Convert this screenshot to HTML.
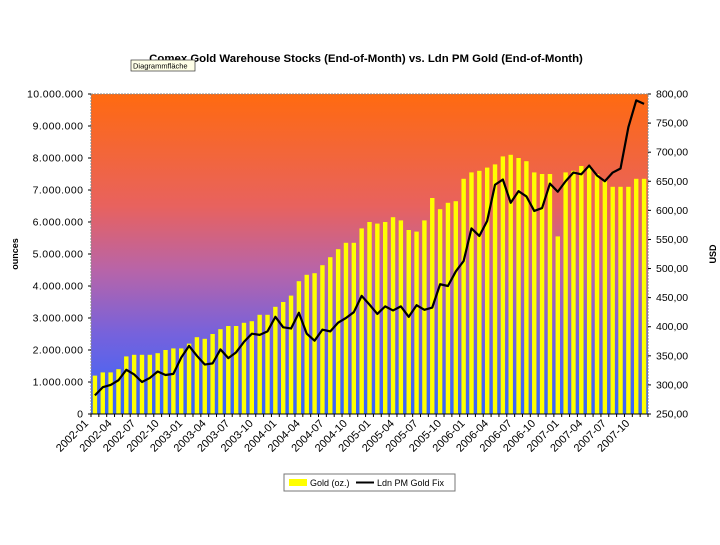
<!DOCTYPE html>
<html><head><meta charset="utf-8"><style>
body{margin:0;background:#fff;}
svg text{font-family:"Liberation Sans",Arial,sans-serif;}
</style></head><body>
<svg id="c" width="720" height="540" xmlns="http://www.w3.org/2000/svg">
<defs>
<linearGradient id="bg" x1="0" y1="0" x2="0" y2="1">
<stop offset="0" stop-color="#ff6a10"/>
<stop offset="0.35" stop-color="#e8625e"/>
<stop offset="0.55" stop-color="#b864a8"/>
<stop offset="0.75" stop-color="#7662dc"/>
<stop offset="1" stop-color="#3366ff"/>
</linearGradient>
</defs>
<rect x="0" y="0" width="720" height="540" fill="#fff"/>
<text x="366" y="62" font-size="11.4" font-weight="bold" text-anchor="middle">Comex Gold Warehouse Stocks (End-of-Month) vs. Ldn PM Gold (End-of-Month)</text>
<rect x="91" y="94" width="557" height="320" fill="url(#bg)" stroke="#888" stroke-dasharray="2,1"/>
<g id="bars"></g><g id="line"></g><g id="axes"></g>
<rect x="131" y="60" width="64" height="11" fill="#ffffe8" stroke="#333" stroke-width="0.7"/>
<text x="133" y="68.5" font-size="7.5">Diagrammfläche</text>
<text transform="translate(18,254) rotate(-90)" font-size="9" font-weight="bold" text-anchor="middle">ounces</text>
<text transform="translate(716,254) rotate(-90)" font-size="9" font-weight="bold" text-anchor="middle">USD</text>
<g>
<rect x="284" y="474" width="171" height="17" fill="#fff" stroke="#777"/>
<rect x="289" y="479" width="18" height="7" fill="#ffff00"/>
<text x="310" y="486" font-size="9">Gold (oz.)</text>
<line x1="356" y1="482.5" x2="374" y2="482.5" stroke="#000" stroke-width="2"/>
<text x="377" y="486" font-size="9">Ldn PM Gold Fix</text>
</g>
</svg>
<script>
const stocks=[1.2,1.3,1.3,1.4,1.8,1.85,1.85,1.85,1.9,2.0,2.05,2.05,
2.2,2.4,2.35,2.5,2.65,2.75,2.75,2.85,2.9,3.1,3.1,3.35,
3.5,3.7,4.15,4.35,4.4,4.65,4.9,5.15,5.35,5.35,5.8,6.0,
5.95,6.0,6.15,6.05,5.75,5.7,6.05,6.75,6.4,6.6,6.65,7.35,
7.55,7.6,7.7,7.8,8.05,8.1,8.0,7.9,7.55,7.5,7.5,5.55,
7.55,7.6,7.75,7.75,7.5,7.3,7.1,7.1,7.1,7.35,7.35];
const price=[282,296,300,308,326,318,305,312,323,317,319,347,
367,350,335,337,361,346,356,374,388,386,392,417,
399,397,424,388,376,395,392,407,415,425,453,438,
422,435,428,435,417,437,429,433,473,470,495,513,
569,556,582,644,653,613,633,624,599,604,646,632,
650,665,662,677,660,650,665,672,743,789,783];
const leftTicks=["0","1.000.000","2.000.000","3.000.000","4.000.000","5.000.000","6.000.000","7.000.000","8.000.000","9.000.000","10.000.000"];
const rightTicks=["250,00","300,00","350,00","400,00","450,00","500,00","550,00","600,00","650,00","700,00","750,00","800,00"];
const months=[];
for(let y=2002;y<=2007;y++)for(let m=1;m<=12;m++)if(months.length<stocks.length)months.push(y+"-"+String(m).padStart(2,"0"));
const NS="http://www.w3.org/2000/svg";
const X0=91,X1=648,Y0=414,Y1=94,n=stocks.length,bw=(X1-X0)/n;
const yL=v=>Y0-(v/10)*(Y0-Y1);
const yR=v=>Y0-(v-250)/550*(Y0-Y1);
const xc=i=>X0+bw*(i+0.5);
function mk(t,a,p){const e=document.createElementNS(NS,t);for(const k in a)e.setAttribute(k,a[k]);p.appendChild(e);return e;}
const gb=document.getElementById("bars"),gl=document.getElementById("line"),ga=document.getElementById("axes");
stocks.forEach((v,i)=>{const r=mk("rect",{x:xc(i)-2.2,y:yL(v),width:4.4,height:Y0-yL(v),fill:"#ffff00"},gb);

});
const pl=mk("polyline",{points:price.map((v,i)=>xc(i)+","+yR(v)).join(" "),fill:"none",stroke:"#000","stroke-width":2.2,"stroke-linejoin":"round"},gl);


leftTicks.forEach((t,i)=>{const y=Y0-i*(Y0-Y1)/10;
mk("line",{x1:X0-3,y1:y,x2:X0,y2:y,stroke:"#000"},ga);
const e=mk("text",{x:X0-8,y:y+3.5,"font-size":10.5,"text-anchor":"end",transform:"scale(1,1)"},ga);e.textContent=t;
e.setAttribute('textLength',String(t.length*5.6));

});
rightTicks.forEach((t,i)=>{const y=Y0-i*(Y0-Y1)/11;
mk("line",{x1:X1,y1:y,x2:X1+3,y2:y,stroke:"#000"},ga);
const e=mk("text",{x:X1+8,y:y+3.5,"font-size":10.5},ga);e.textContent=t;

});
mk("line",{x1:X0,y1:Y0,x2:X1,y2:Y0,stroke:"#000"},ga);
for(let i=0;i<=n;i++)mk("line",{x1:X0+bw*i,y1:Y0,x2:X0+bw*i,y2:Y0+3,stroke:"#000"},ga);
months.forEach((m,i)=>{if(i%3)return;const x=xc(i)-6,y=Y0+10;
const e=mk("text",{x:x,y:y,"font-size":11,"text-anchor":"end",transform:"rotate(-45 "+x+" "+y+")"},ga);e.textContent=m;

});
</script>
</body></html>
